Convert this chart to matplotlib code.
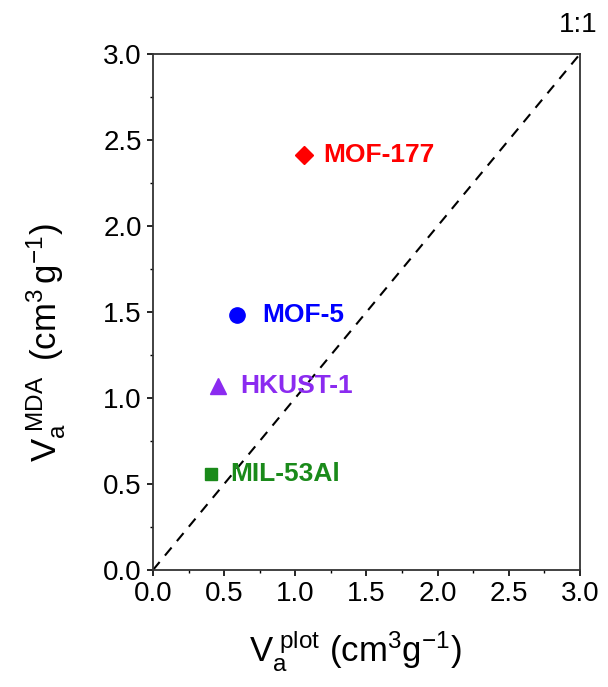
import matplotlib
matplotlib.use("Agg")
import matplotlib.pyplot as plt
from matplotlib.ticker import MultipleLocator

plt.rcParams['font.family'] = ['Liberation Sans', 'DejaVu Sans']
plt.rcParams['mathtext.fontset'] = 'custom'
plt.rcParams['mathtext.rm'] = 'Liberation Sans'
plt.rcParams['mathtext.it'] = 'Liberation Sans'

names = ['MOF-177', 'MOF-5', 'HKUST-1', 'MIL-53Al']
v_plot = [1.06, 0.59, 0.46, 0.41]
v_mda = [2.41, 1.48, 1.07, 0.56]
markers = ['D', 'o', '^', 's']
colors = ['#FF0000', '#0000FF', '#8B2BF0', '#1A8A1A']
msizes = [9, 11, 12, 9]
label_dx = [0.135, 0.18, 0.15, 0.13]

fig = plt.figure(figsize=(6.08, 6.87), dpi=100)
ax = fig.add_axes([0.2516, 0.1703, 0.7023, 0.7511])

ax.plot([0, 3], [0, 3], linestyle=(0, (5, 4)), color='black', lw=1.5, zorder=1)

for n, x, y, m, c, s, dx in zip(names, v_plot, v_mda, markers, colors, msizes, label_dx):
    ax.plot([x], [y], marker=m, color=c, ms=s, linestyle='none', zorder=3)
    ax.text(x + dx, y, n, color=c, fontsize=19, fontweight='bold', va='center', ha='left', zorder=4)

ax.text(3.12, 3.17, '1:1', fontsize=20, ha='right', va='center', clip_on=False)

ax.set_xlim(0, 3)
ax.set_ylim(0, 3)
ax.xaxis.set_major_locator(MultipleLocator(0.5))
ax.yaxis.set_major_locator(MultipleLocator(0.5))
ax.xaxis.set_minor_locator(MultipleLocator(0.25))
ax.yaxis.set_minor_locator(MultipleLocator(0.25))
ax.tick_params(which='major', direction='out', length=4, width=1.2, labelsize=20, pad=4)
ax.tick_params(which='minor', direction='out', length=2.5, width=1.0)
for sp in ax.spines.values():
    sp.set_linewidth(1.3)
    sp.set_color('#333333')

ax.set_xlabel(r'$\mathregular{V_a^{\ plot}\ (cm^3g^{-1})}$', fontsize=25)
ax.xaxis.set_label_coords(0.475, -0.113)
ax.set_ylabel(r'$\mathregular{V_a^{\ MDA}\;\;(cm^{3}\,g^{-1})}$', fontsize=25)
ax.yaxis.set_label_coords(-0.20, 0.44)

fig.savefig('out.png', dpi=100)
